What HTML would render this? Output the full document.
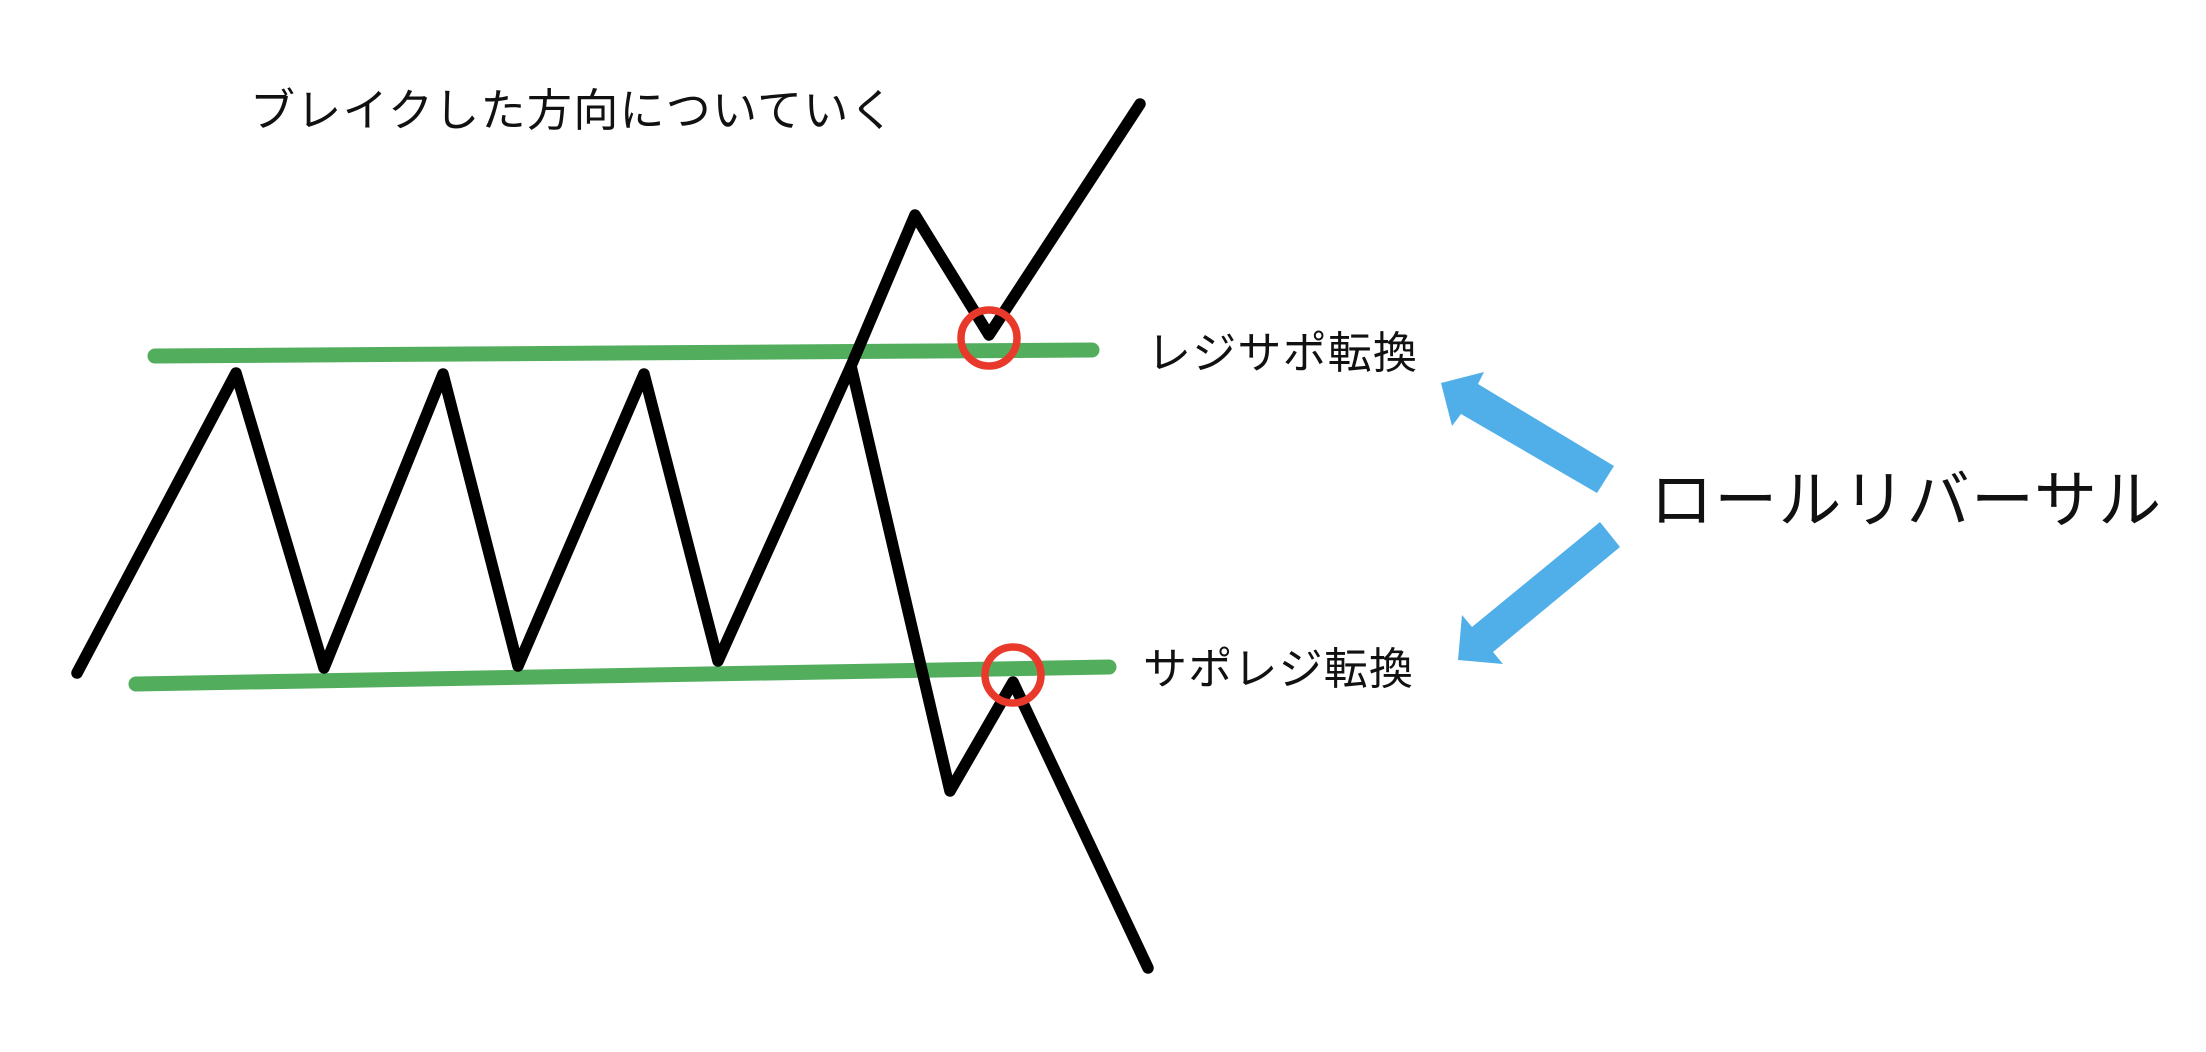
<!DOCTYPE html>
<html><head><meta charset="utf-8"><style>
html,body{margin:0;padding:0;background:#fff;}
svg{display:block;}
text{font-family:"Noto Sans CJK JP",sans-serif;font-weight:400;fill:#111;}
</style></head><body>
<svg width="2206" height="1052" viewBox="0 0 2206 1052" xmlns="http://www.w3.org/2000/svg">
<rect width="2206" height="1052" fill="#fff"/>
<line x1="155" y1="356" x2="1092" y2="350" stroke="#52ae5d" stroke-width="15" stroke-linecap="round"/>
<line x1="136" y1="684" x2="1109" y2="667" stroke="#52ae5d" stroke-width="15" stroke-linecap="round"/>
<polyline points="77,673 236,373 324,668 443,374 518,666 644,374 718,661 851,366 950,791 1013,682 1148,968" fill="none" stroke="#000" stroke-width="11.5" stroke-linejoin="round" stroke-linecap="round"/>
<polyline points="851,366 915,215 989,335 1140,104" fill="none" stroke="#000" stroke-width="11.5" stroke-linejoin="round" stroke-linecap="round"/>
<circle cx="989" cy="338" r="28" fill="none" stroke="#e8392b" stroke-width="7.5"/>
<circle cx="1013" cy="675" r="28" fill="none" stroke="#e8392b" stroke-width="7.5"/>
<polygon points="1614,466 1597,493 1461,414 1452,426 1441,383 1484,372 1478,384" fill="#50aee8"/>
<polygon points="1600,522 1620,547 1493,652 1503,664 1458,660 1462,615 1472,627" fill="#50aee8"/>
<text x="250" y="126" font-size="45" letter-spacing="1.3">ブレイクした方向についていく</text>
<text x="1147" y="368" font-size="44" letter-spacing="1.2">レジサポ転換</text>
<text x="1143" y="684" font-size="44" letter-spacing="1.2">サポレジ転換</text>
<text x="1650" y="522" font-size="63" letter-spacing="1.2">ロールリバーサル</text>
</svg>
</body></html>
